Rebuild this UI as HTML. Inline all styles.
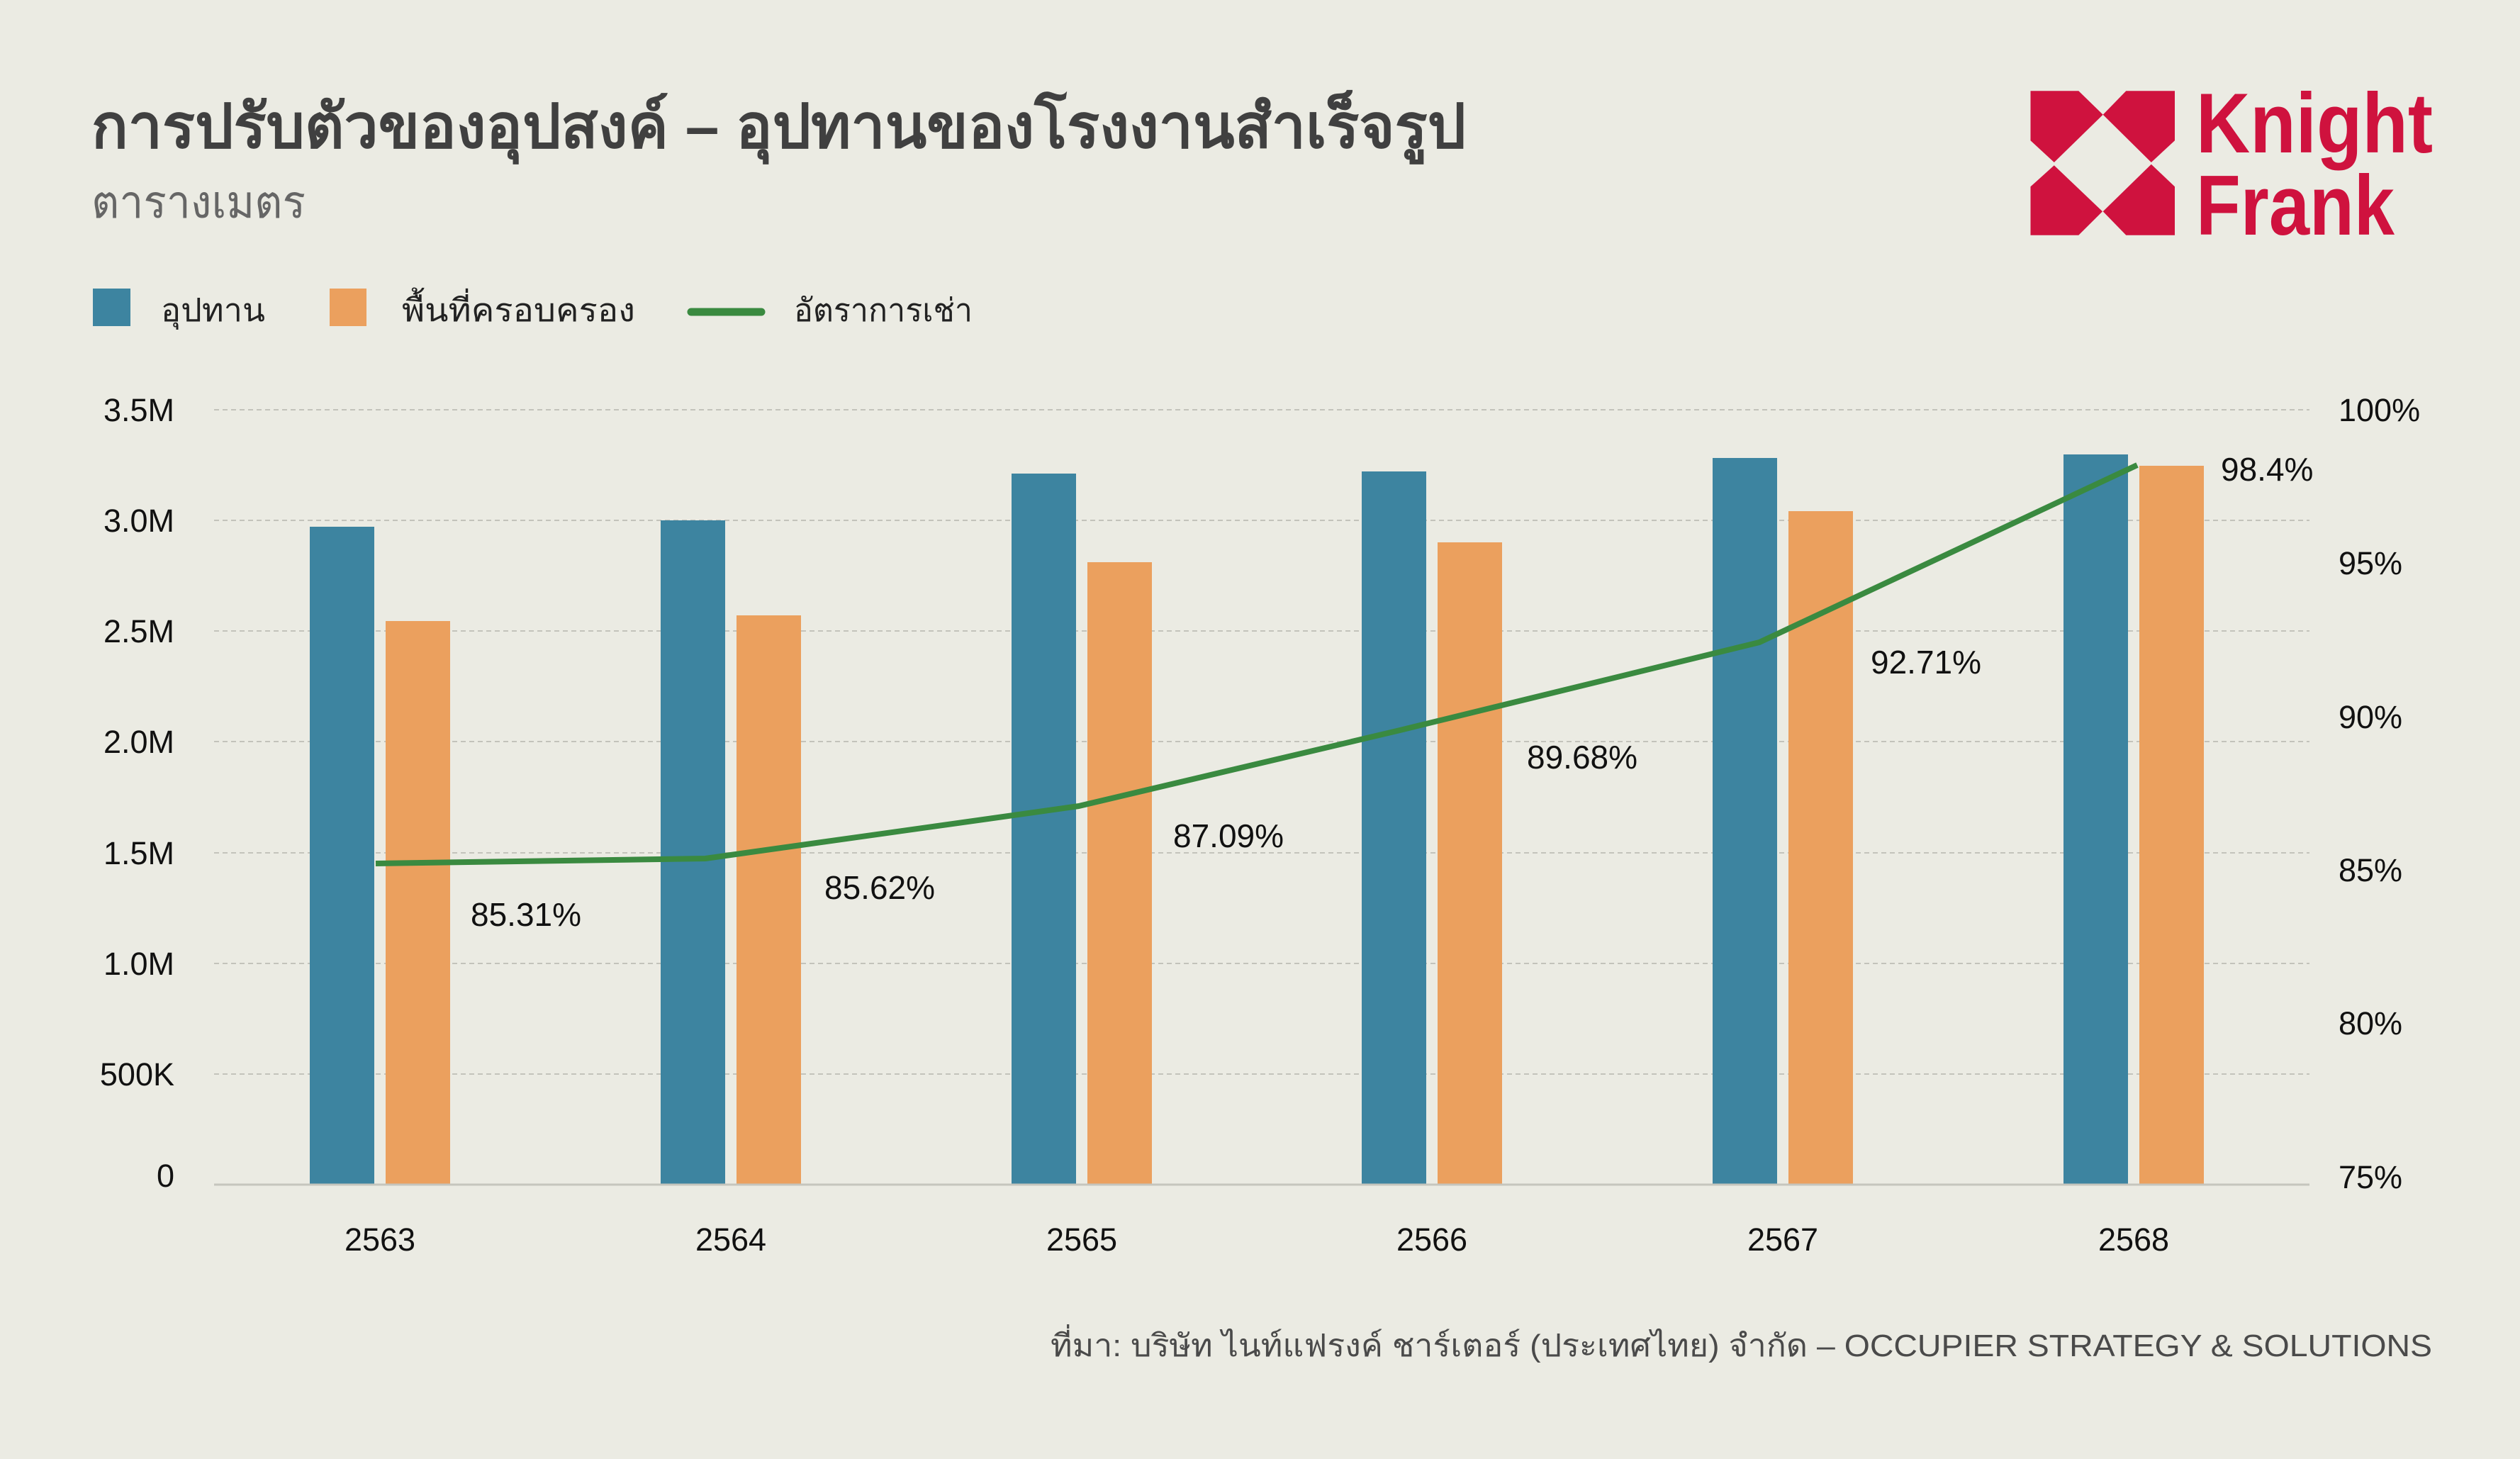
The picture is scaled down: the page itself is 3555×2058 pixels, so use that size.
<!DOCTYPE html>
<html><head><meta charset="utf-8"><style>
html,body{margin:0;padding:0;background:#ebebe3;}
svg{display:block}
</style></head><body>
<svg width="3555" height="2058" viewBox="0 0 3555 2058" xmlns="http://www.w3.org/2000/svg">
<rect width="3555" height="2058" fill="#ebebe3"/>
<g font-family="'Liberation Sans','Noto Sans CJK SC',sans-serif">
<text x="129" y="208" font-size="86" font-weight="bold" fill="#404040" textLength="1939" lengthAdjust="spacingAndGlyphs">การปรับตัวของอุปสงค์ – อุปทานของโรงงานสำเร็จรูป</text>
<text x="129" y="307" font-size="64" fill="#666" textLength="302" lengthAdjust="spacingAndGlyphs">ตารางเมตร</text>
<!-- logo -->
<g fill="#cf123e">
<polygon points="2864.5,128.3 2932.3,128.3 2966.7,161.7 2897.8,229 2864.5,198.3"/>
<polygon points="2999.3,128.3 3068,128.3 3068,198.3 3034.8,229 2966.7,161.7"/>
<polygon points="2897.8,233.3 2966,298.3 2932.3,331.7 2864.5,331.7 2864.5,263.3"/>
<polygon points="3034.8,231.7 3068,263.3 3068,331.7 2999.3,331.7 2966.7,298.3"/>
<text x="3098" y="215" font-size="120" font-weight="bold" textLength="334" lengthAdjust="spacingAndGlyphs">Knight</text>
<text x="3098" y="331" font-size="120" font-weight="bold" textLength="280" lengthAdjust="spacingAndGlyphs">Frank</text>
</g>
<!-- legend -->
<rect x="131" y="407" width="53" height="53" fill="#3d84a0"/>
<text x="227" y="453" font-size="45" fill="#222" textLength="147" lengthAdjust="spacingAndGlyphs">อุปทาน</text>
<rect x="465" y="407" width="52" height="53" fill="#eba05e"/>
<text x="567" y="453" font-size="45" fill="#222" textLength="329" lengthAdjust="spacingAndGlyphs">พื้นที่ครอบครอง</text>
<line x1="975" y1="440" x2="1074" y2="440" stroke="#3a8a40" stroke-width="11" stroke-linecap="round"/>
<text x="1120" y="453" font-size="45" fill="#222" textLength="252" lengthAdjust="spacingAndGlyphs">อัตราการเช่า</text>
<!-- grid -->
<g stroke="#c3c3bb" stroke-width="2" stroke-dasharray="7,5">
<line x1="302" x2="3258" y1="578" y2="578"/>
<line x1="302" x2="3258" y1="734" y2="734"/>
<line x1="302" x2="3258" y1="890" y2="890"/>
<line x1="302" x2="3258" y1="1046" y2="1046"/>
<line x1="302" x2="3258" y1="1203" y2="1203"/>
<line x1="302" x2="3258" y1="1359" y2="1359"/>
<line x1="302" x2="3258" y1="1515" y2="1515"/>
</g>
<g fill="#3d84a0">
<rect x="437" y="743" width="91" height="928"/>
<rect x="932" y="734" width="91" height="937"/>
<rect x="1427" y="668" width="91" height="1003"/>
<rect x="1921" y="665" width="91" height="1006"/>
<rect x="2416" y="646" width="91" height="1025"/>
<rect x="2911" y="641" width="91" height="1030"/>
</g>
<g fill="#eba05e">
<rect x="544" y="876" width="91" height="795"/>
<rect x="1039" y="868" width="91" height="803"/>
<rect x="1534" y="793" width="91" height="878"/>
<rect x="2028" y="765" width="91" height="906"/>
<rect x="2523" y="721" width="91" height="950"/>
<rect x="3018" y="657" width="91" height="1014"/>
</g>
<line x1="302" x2="3258" y1="1671" y2="1671" stroke="#c5c5bd" stroke-width="3"/>
<polyline points="530,1218 995,1211 1522,1137 1975,1030 2482,906 3015,656" fill="none" stroke="#3a8a40" stroke-width="8" stroke-linejoin="round"/>
<g font-size="46" fill="#111">
<text x="664" y="1306">85.31%</text>
<text x="1163" y="1268">85.62%</text>
<text x="1655" y="1195">87.09%</text>
<text x="2154" y="1084">89.68%</text>
<text x="2639" y="950">92.71%</text>
<text x="3133" y="678">98.4%</text>
</g>
<g font-size="45" fill="#111" text-anchor="end">
<text x="246" y="594">3.5M</text>
<text x="246" y="750">3.0M</text>
<text x="246" y="906">2.5M</text>
<text x="246" y="1062">2.0M</text>
<text x="246" y="1219">1.5M</text>
<text x="246" y="1375">1.0M</text>
<text x="246" y="1531">500K</text>
<text x="246" y="1674">0</text>
</g>
<g font-size="45" fill="#111">
<text x="3299" y="594">100%</text>
<text x="3299" y="810">95%</text>
<text x="3299" y="1027">90%</text>
<text x="3299" y="1243">85%</text>
<text x="3299" y="1459">80%</text>
<text x="3299" y="1676">75%</text>
</g>
<g font-size="45" fill="#111" text-anchor="middle">
<text x="536" y="1764">2563</text>
<text x="1031" y="1764">2564</text>
<text x="1526" y="1764">2565</text>
<text x="2020" y="1764">2566</text>
<text x="2515" y="1764">2567</text>
<text x="3010" y="1764">2568</text>
</g>
<text x="1482" y="1913" font-size="44" fill="#4a4a4a" textLength="1949" lengthAdjust="spacingAndGlyphs">ที่มา: บริษัท ไนท์แฟรงค์ ชาร์เตอร์ (ประเทศไทย) จำกัด – OCCUPIER STRATEGY &amp; SOLUTIONS</text>
</g>
</svg>
</body></html>
